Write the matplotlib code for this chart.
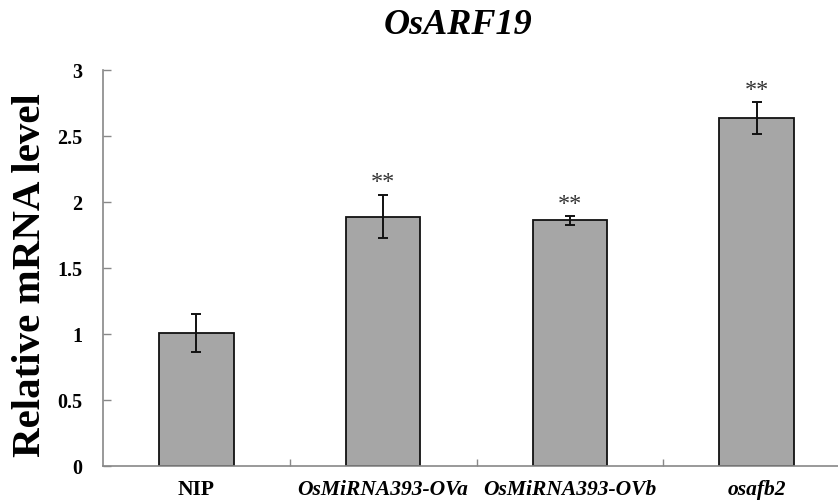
import matplotlib
matplotlib.use("Agg")
import matplotlib.pyplot as plt

categories = ["NIP", "OsMiRNA393-OVa", "OsMiRNA393-OVb", "osafb2"]
values = [1.005, 1.89, 1.86, 2.635]
errors = [0.145, 0.165, 0.035, 0.12]
marks = ["", "**", "**", "**"]
yticks = [0, 0.5, 1, 1.5, 2, 2.5, 3]
yticklabels = ["0", "0.5", "1", "1.5", "2", "2.5", "3"]
title = "OsARF19"
ylabel = "Relative mRNA level"

plt.rcParams['font.family'] = ['Liberation Serif', 'DejaVu Serif']

fig = plt.figure(figsize=(8.38, 5.01), dpi=100)
ax = fig.add_axes([103/838, 35/501, (850-103)/838, (466-70)/501])

x = list(range(len(categories)))
ax.bar(x, values, width=0.4, color="#a6a6a6", edgecolor="#111111", linewidth=1.3, zorder=2)
ax.errorbar(x, values, yerr=errors, fmt="none", ecolor="#111111", elinewidth=1.4,
            capsize=3.6, capthick=1.4, zorder=3)

for xi, v, e, m in zip(x, values, errors, marks):
    if m:
        ax.annotate(m, xy=(xi, v + e), xytext=(0, 4.5), textcoords="offset points",
                    ha="center", va="baseline", fontsize=17.5, color="#333333")

ax.set_xlim(-0.5, 3.5)
ax.set_ylim(0, 3)
ax.set_yticks(yticks)
ax.set_yticklabels(yticklabels, fontsize=14.5, fontweight="bold")
ax.set_xticks([0.5, 1.5, 2.5])
ax.set_xticklabels([])
ax.tick_params(axis="x", which="major", direction="in", length=5, color="#888888", width=1)
ax.set_xticks(x, minor=True)
ax.set_xticklabels(categories, minor=True)
ax.tick_params(axis="x", which="minor", length=0, pad=10)
for i, lab in enumerate(ax.get_xticklabels(minor=True)):
    lab.set_fontsize(15.5)
    lab.set_fontweight("bold")
    if i > 0:
        lab.set_fontstyle("italic")
ax.tick_params(axis="y", direction="in", length=6, color="#888888", width=1, pad=15)

for s in ["top", "right"]:
    ax.spines[s].set_visible(False)
for s in ["left", "bottom"]:
    ax.spines[s].set_color("#888888")
    ax.spines[s].set_linewidth(1.2)

fig.text(31/838, 1 - 275/501, ylabel, rotation=90, ha="center", va="center",
         fontsize=29.5, fontweight="bold")
fig.text(458/838, 1 - 25/501, title, ha="center", va="center",
         fontsize=26, fontweight="bold", fontstyle="italic")

fig.savefig("out.png", dpi=100)
